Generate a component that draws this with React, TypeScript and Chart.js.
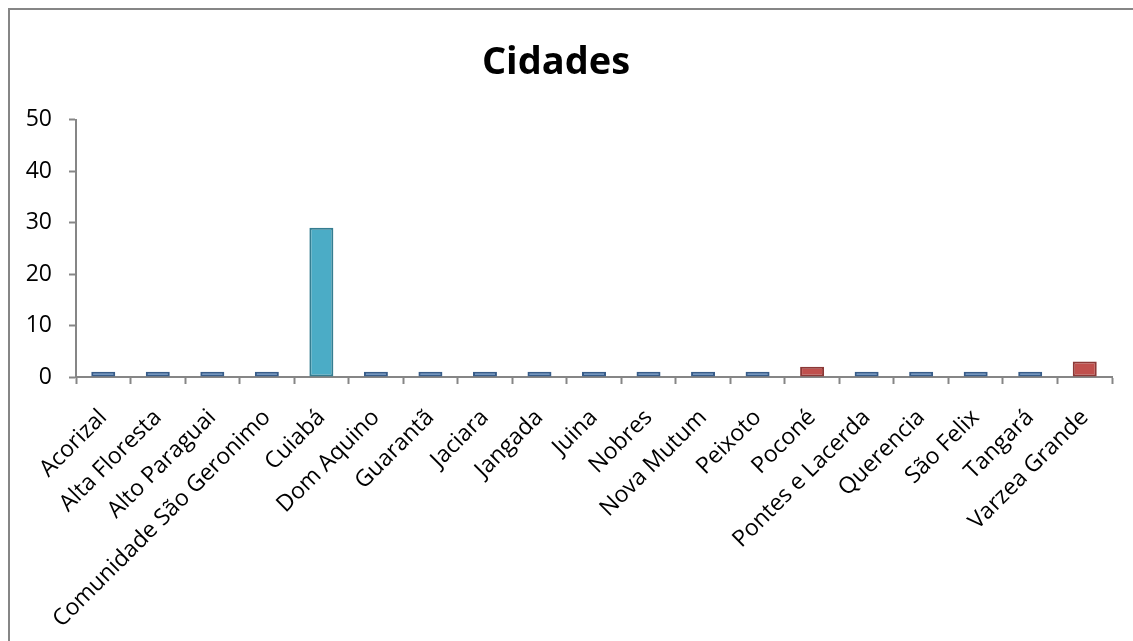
import React, { useEffect, useRef } from "react";
import { Chart, registerables } from "chart.js";

Chart.register(...registerables);

const categories = [
  "Acorizal",
  "Alta Floresta",
  "Alto Paraguai",
  "Comunidade São Geronimo",
  "Cuiabá",
  "Dom Aquino",
  "Guarantã",
  "Jaciara",
  "Jangada",
  "Juina",
  "Nobres",
  "Nova Mutum",
  "Peixoto",
  "Poconé",
  "Pontes e Lacerda",
  "Querencia",
  "São Felix",
  "Tangará",
  "Varzea Grande",
];
const values = [1, 1, 1, 1, 29, 1, 1, 1, 1, 1, 1, 1, 1, 2, 1, 1, 1, 1, 3];
const barGroups = ["b", "b", "b", "b", "t", "b", "b", "b", "b", "b", "b", "b", "b", "r", "b", "b", "b", "b", "r"];
const yTicks = [0, 10, 20, 30, 40, 50];
const title = "Cidades";

const fills: Record<string, string> = { b: "#4F81BD", t: "#4BACC6", r: "#C0504D" };
const borders: Record<string, string> = { b: "#385D8A", t: "#357D91", r: "#8C3836" };

export default function App() {
  const ref = useRef<HTMLCanvasElement | null>(null);
  useEffect(() => {
    if (!ref.current) return;
    const axisGray = "#868686";
    const chart = new Chart(ref.current, {
      type: "bar",
      data: {
        labels: categories,
        datasets: [
          {
            data: values,
            backgroundColor: barGroups.map((g) => fills[g]),
            borderColor: barGroups.map((g) => borders[g]),
            borderWidth: 2,
            borderSkipped: false,
            categoryPercentage: 1,
            barPercentage: 0.44,
          },
        ],
      },
      options: {
        responsive: false,
        animation: false,
        layout: { padding: { left: 0, right: 21, top: 0, bottom: 0 } },
        plugins: {
          legend: { display: false },
          tooltip: { enabled: false },
          title: {
            display: true,
            text: title,
            color: "#000",
            font: { family: "'Open Sans'", size: 38, weight: "bold", lineHeight: 1.2 },
            padding: { top: 40, bottom: 34 },
          },
        },
        scales: {
          x: {
            offset: true,
            grid: {
              display: true,
              drawOnChartArea: false,
              drawTicks: true,
              tickLength: 7,
              tickWidth: 2,
              tickColor: axisGray,
              offset: true,
            },
            border: { display: true, color: axisGray, width: 2 },
            ticks: {
              autoSkip: false,
              maxRotation: 45,
              minRotation: 45,
              color: "#000",
              padding: 20,
              font: { family: "'Open Sans'", size: 23 },
            },
            afterFit: (s: any) => {
              s.height = 264;
            },
          },
          y: {
            min: 0,
            max: 50,
            afterBuildTicks: (s: any) => {
              s.ticks = yTicks.map((v) => ({ value: v }));
            },
            grid: {
              display: true,
              drawOnChartArea: false,
              drawTicks: true,
              tickLength: 7,
              tickWidth: 2,
              tickColor: axisGray,
            },
            border: { display: true, color: axisGray, width: 2 },
            ticks: {
              color: "#000",
              padding: 17,
              font: { family: "'Open Sans'", size: 23 },
            },
            afterFit: (s: any) => {
              s.width = 76;
            },
          },
        },
      },
    });
    return () => chart.destroy();
  }, []);

  return (
    <>
      <div
        style={{
          position: "fixed",
          left: 8,
          top: 8,
          width: 1300,
          height: 800,
          borderTop: "2px solid #868686",
          borderLeft: "2px solid #868686",
          boxSizing: "border-box",
        }}
      />
      <canvas
        ref={ref}
        width={1133}
        height={641}
        style={{ position: "fixed", left: 0, top: 0, width: 1133, height: 641 }}
      />
    </>
  );
}
